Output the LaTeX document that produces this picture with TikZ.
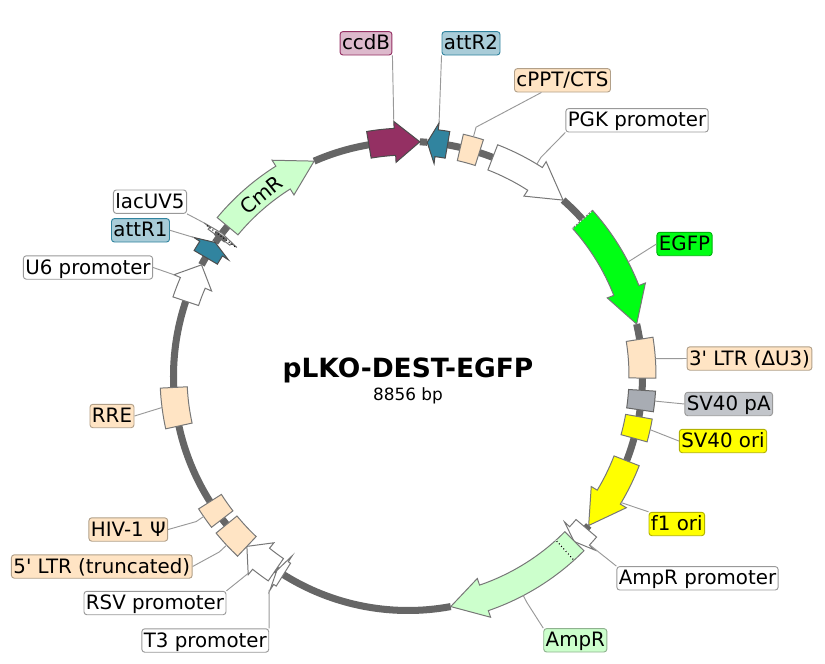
\documentclass[tikz,border=0pt]{standalone}
\usepackage{fontspec}
\setmainfont{DejaVu Sans}
\usepackage{tikz}
\usepackage{xcolor}
\usetikzlibrary{arrows.meta,calc}
\definecolor{backbonegray}{HTML}{666666}
\definecolor{featline}{HTML}{777777}
\definecolor{leadgray}{HTML}{999999}
\definecolor{ccdbfill}{HTML}{943063}
\definecolor{ccdblabel}{HTML}{DDB9CC}
\definecolor{attfill}{HTML}{31849F}
\definecolor{attlabel}{HTML}{A9CCD8}
\definecolor{beige}{HTML}{FFE4C4}
\definecolor{palegreen}{HTML}{CCFFCC}
\definecolor{pagray}{HTML}{A8ACB3}
\definecolor{palabel}{HTML}{C2C5CA}
\definecolor{oriyellow}{HTML}{FFFF00}
\definecolor{egfpgreen}{HTML}{00FF14}
\tikzset{
  backbone/.style={line width=6pt,color=backbonegray,line cap=butt},
  feat/.style={draw=featline,line width=0.85pt,line join=miter},
  leader/.style={draw=leadgray,line width=0.8pt},
  lbl/.style={draw=leadgray,fill=white,rounded corners=2.5pt,line width=0.8pt,inner xsep=1.7pt,inner ysep=0.8pt,text height=14.9pt,text depth=3.5pt,font=\fontsize{16.9}{18}\selectfont},
  joinmark/.style={line width=0.9pt,dotted,line cap=butt}
}
% arrow on the ring: tail angle, barb angle, tip angle
\newcommand{\featarrow}[4]{\draw[feat,#1] (#2:221) arc (#2:#3:221) -- (#3:214) -- (#4:234.5) -- (#3:255) -- (#3:248) arc (#3:#2:248) -- cycle;}
% plain segment on the ring
\newcommand{\featbox}[3]{\draw[feat,#1] (#2:221) arc (#2:#3:221) -- (#3:248) arc (#3:#2:248) -- cycle;}
\begin{document}
\begin{tikzpicture}[line join=round,x=0.03cm,y=0.03cm]
  \useasboundingbox (-408,-287) rectangle (417,376);
  \foreach \a/\b in {113.6/99.6,87.1/85.3,80.3/77.1,72.3/68.8,48.6/41.9,12.8/9,-0.5/-3.5,-8.3/-10,-15.4/-21.2,-39.6/-40.5,-79.5/-124.3,-140.7/-142.4,-147.6/-167.7,182.8/161.4,151.7/149.6,145.3/140.3}
    \draw[backbone] (\a:234.5) arc (\a:\b:234.5);
  % features
  \featarrow{fill=palegreen}{140.3}{122.2}{113.6}
  \featarrow{fill=ccdbfill,draw=black!70}{99.6}{93.2}{87.1}
  \featarrow{fill=attfill,draw=black!70}{80.3}{83}{85.3}
  \featbox{fill=beige}{77.1}{72.3}
  \featarrow{fill=white}{68.8}{57.2}{48.6}
  \featarrow{fill=egfpgreen}{41.9}{21.4}{12.8}
  \featbox{fill=beige}{9}{-0.5}
  \featbox{fill=pagray,draw=black!60}{-3.5}{-8.3}
  \featbox{fill=oriyellow}{-10}{-15.4}
  \featarrow{fill=oriyellow}{-21.2}{-31.1}{-39.6}
  \featarrow{fill=white}{-40.5}{-43}{-44.9}
  \featarrow{fill=palegreen}{-44.8}{-71.1}{-79.5}
  \featarrow{fill=white}{-122.1}{-122.8}{-124}
  \featarrow{fill=white}{-124.3}{-128.8}{-133.4}
  \featbox{fill=beige}{-133.4}{-140.7}
  \featbox{fill=beige}{-142.4}{-147.6}
  \featbox{fill=beige}{182.8}{192.3}
  \featarrow{fill=white}{161.4}{156.6}{151.7}
  \featarrow{fill=attfill,draw=black!70}{149.6}{147.1}{145.3}
  \featarrow{fill=white}{143.7}{143.1}{142.5}
  \draw[backbone,line width=4pt] (143.4:227) -- (143.4:240);
  % dotted ends
  \draw[joinmark,white] (41.9:221) -- (41.9:248);
  \draw[joinmark,white] (-48:221) -- (-48:248);
  \draw[joinmark,black] (-48:222) -- (-48:247);
  \draw[joinmark,black] (143.2:216) -- (143.2:252);
  \node[font=\fontsize{17.2}{18}\selectfont,rotate=39] (cmr) at (129:233) {CmR};
  % labels
  \node[font=\bfseries\fontsize{22.6}{24}\selectfont] (title) at (0,6) {pLKO-DEST-EGFP};
  \node[font=\fontsize{14.4}{16}\selectfont] (size) at (0,-20) {8856 bp};
  \node[lbl,fill=ccdblabel,draw=ccdbfill] (ccdb) at (-42,332.7) {ccdB};
  \node[lbl,fill=attlabel,draw=attfill] (attrtwo) at (63,332.7) {attR2};
  \node[lbl,fill=beige,draw=beige!70!black] (cppt) at (154.5,295.7) {cPPT/CTS};
  \node[lbl] (pgk) at (229,255.7) {PGK promoter};
  \node[lbl] (lacuv) at (-258,174.3) {lacUV5};
  \node[lbl,fill=attlabel,draw=attfill] (attrone) at (-267.5,145.7) {attR1};
  \node[lbl] (usix) at (-320,108.5) {U6 promoter};
  \node[lbl,fill=egfpgreen,draw=egfpgreen!70!black] (egfp) at (276.5,132) {EGFP};
  \node[lbl,fill=beige,draw=beige!70!black] (ltrthree) at (341.5,17.5) {3\textquotesingle{} LTR (ΔU3)};
  \node[lbl,fill=palabel] (svpa) at (320.7,-28) {SV40 pA};
  \node[lbl,fill=oriyellow,draw=oriyellow!70!black] (svori) at (315,-65) {SV40 ori};
  \node[lbl,fill=oriyellow,draw=oriyellow!70!black] (fone) at (268.8,-148) {f1 ori};
  \node[lbl] (amppro) at (289.5,-202.3) {AmpR promoter};
  \node[lbl,fill=palegreen,draw=palegreen!70!black] (ampr) at (167.3,-264.3) {AmpR};
  \node[lbl] (tthree) at (-202.7,-264.5) {T3 promoter};
  \node[lbl] (rsv) at (-253,-227) {RSV promoter};
  \node[lbl,fill=beige,draw=beige!70!black] (ltrfive) at (-306.2,-190.5) {5\textquotesingle{} LTR (truncated)};
  \node[lbl,fill=beige,draw=beige!70!black] (hiv) at (-279.7,-153.5) {HIV-1 Ψ};
  \node[lbl,fill=beige,draw=beige!70!black] (rre) at (-296,-40) {RRE};
  % leaders
  \draw[leader] (ccdb.south east) -- (93.2:255);
  \draw[leader] (attrtwo.south west) -- (83:255);
  \draw[leader] (cppt.210) -- (74.7:258) -- (74.7:248);
  \draw[leader] (pgk.south west) -- (58.7:256) -- (58.7:248);
  \draw[leader] (egfp.west) -- (27.4:248);
  \draw[leader] (ltrthree.west) -- (4:248);
  \draw[leader] (svpa.west) -- (-5.8:248);
  \draw[leader] (svori.west) -- (-12.5:248);
  \draw[leader] (fone.north west) -- (-30.7:248);
  \draw[leader] (amppro.north west) -- (-42.9:248);
  \draw[leader] (ampr.north west) -- (-62.3:256) -- (-62.3:248);
  \draw[leader] (tthree.north east) -- (-123:255);
  \draw[leader] (rsv.north east) -- (-129:254);
  \draw[leader] (ltrfive.east) -- (-137:258) -- (-137:248);
  \draw[leader] (hiv.east) -- (-145.5:257) -- (-145.5:248);
  \draw[leader] (rre.east) -- (187.3:248);
  \draw[leader] (usix.east) -- (156.6:255);
  \draw[leader] (attrone.east) -- (147.1:255);
  \draw[leader] (lacuv.south east) -- (143.1:255);
\end{tikzpicture}
\end{document}
